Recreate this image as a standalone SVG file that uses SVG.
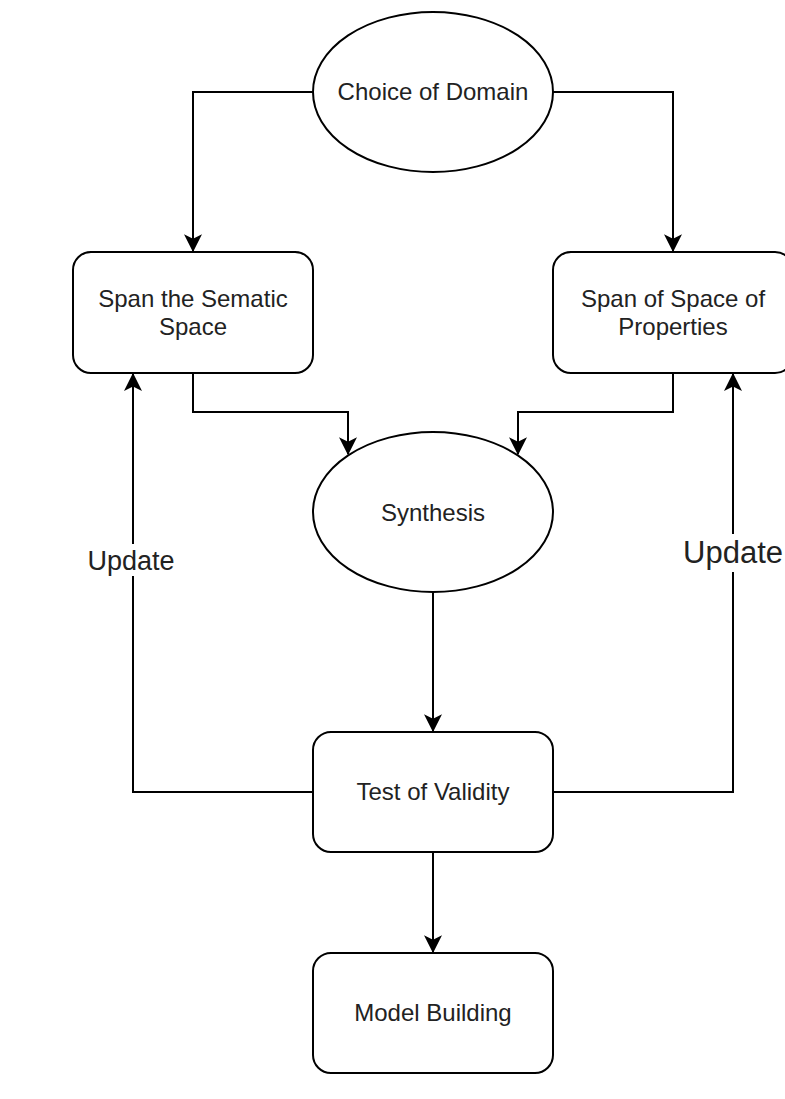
<svg xmlns="http://www.w3.org/2000/svg" width="785" height="1099" viewBox="0 0 785 1099">
<style>
.shape{fill:#ffffff;stroke:#000000;stroke-width:2}
.edge{fill:none;stroke:#000000;stroke-width:2}
.lbl{font-family:"Liberation Sans",Arial,Helvetica,sans-serif;font-size:24px;fill:#222222;text-anchor:middle}
</style>
<defs>
<marker id="arr" markerUnits="userSpaceOnUse" markerWidth="18" markerHeight="18" viewBox="0 0 16 16" refX="15" refY="8" orient="auto">
<path d="M0,0 L16,8 L0,16 L4,8 Z" fill="#000000"/>
</marker>
</defs>
<rect x="0" y="0" width="785" height="1099" fill="#ffffff"/>
<g id="connectors">
<path class="edge" d="M313,92 H193 V251" marker-end="url(#arr)"/>
<path class="edge" d="M553,92 H673 V251" marker-end="url(#arr)"/>
<path class="edge" d="M193,373 V412 H348 V454" marker-end="url(#arr)"/>
<path class="edge" d="M673,373 V412 H518 V454" marker-end="url(#arr)"/>
<path class="edge" d="M433,592 V731" marker-end="url(#arr)"/>
<path class="edge" d="M433,852 V952" marker-end="url(#arr)"/>
<path class="edge" d="M313,792 H133 V374" marker-end="url(#arr)"/>
<path class="edge" d="M553,792 H733 V374" marker-end="url(#arr)"/>
<g id="label-update-left">
<rect x="85" y="544" width="92" height="32" fill="#ffffff"/>
<text class="lbl" x="131" y="570" style="font-size:27px">Update</text>
</g>
<g id="label-update-right">
<rect x="682" y="534" width="103" height="38" fill="#ffffff"/>
<text class="lbl" x="733" y="563" style="font-size:31px">Update</text>
</g>
</g>
<g id="choice-of-domain">
<ellipse class="shape" cx="433" cy="92" rx="120" ry="80"/>
<text class="lbl" x="433" y="100">Choice of Domain</text>
</g>
<g id="span-semantic-space">
<rect class="shape" x="73" y="252" width="240" height="121" rx="18" ry="18"/>
<text class="lbl" x="193" y="307">Span the Sematic</text>
<text class="lbl" x="193" y="335">Space</text>
</g>
<g id="span-space-properties">
<rect class="shape" x="553" y="252" width="240" height="121" rx="18" ry="18"/>
<text class="lbl" x="673" y="307">Span of Space of</text>
<text class="lbl" x="673" y="335">Properties</text>
</g>
<g id="synthesis">
<ellipse class="shape" cx="433" cy="512" rx="120" ry="80"/>
<text class="lbl" x="433" y="521">Synthesis</text>
</g>
<g id="test-of-validity">
<rect class="shape" x="313" y="732" width="240" height="120" rx="18" ry="18"/>
<text class="lbl" x="433" y="800">Test of Validity</text>
</g>
<g id="model-building">
<rect class="shape" x="313" y="953" width="240" height="120" rx="18" ry="18"/>
<text class="lbl" x="433" y="1021">Model Building</text>
</g>
</svg>
